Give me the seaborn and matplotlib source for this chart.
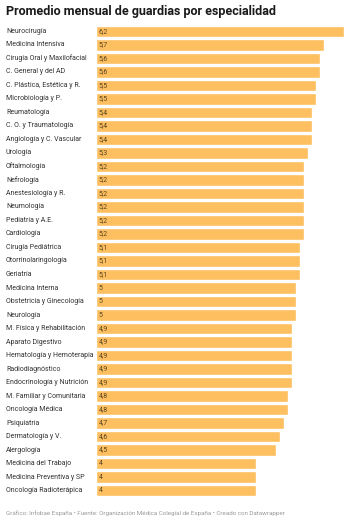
import seaborn as sns
import pandas as pd
import matplotlib.pyplot as plt

# Data
especialidades = [
    'Neurocirugía', 'Medicina Intensiva', 'Cirugía Oral y Maxilofacial',
    'C. General y del AD', 'C. Plástica, Estética y R.', 'Microbiología y P.',
    'Reumatología', 'C. O. y Traumatología', 'Angiología y C. Vascular',
    'Urología', 'Oftalmología', 'Nefrología', 'Anestesiología y R.',
    'Neumología', 'Pediatría y A.E.', 'Cardiología', 'Cirugía Pediátrica',
    'Otorrinolaringología', 'Geriatría', 'Medicina Interna',
    'Obstetricia y Ginecología', 'Neurología', 'M. Física y Rehabilitación',
    'Aparato Digestivo', 'Hematología y Hemoterapia', 'Radiodiagnóstico',
    'Endocrinología y Nutrición', 'M. Familiar y Comunitaria',
    'Oncología Médica', 'Psiquiatría', 'Dermatología y V.', 'Alergología',
    'Medicina del Trabajo', 'Medicina Preventiva y SP', 'Oncología Radioterápica',
]
guardias = [
    6.2, 5.7, 5.6, 5.6, 5.5, 5.5, 5.4, 5.4, 5.4, 5.3, 5.2, 5.2, 5.2, 5.2,
    5.2, 5.2, 5.1, 5.1, 5.1, 5.0, 5.0, 5.0, 4.9, 4.9, 4.9, 4.9, 4.9, 4.8,
    4.8, 4.7, 4.6, 4.5, 4.0, 4.0, 4.0,
]

df = pd.DataFrame({'especialidad': especialidades, 'guardias': guardias})

sns.set_style('white')
plt.rcParams['font.family'] = ['Roboto', 'DejaVu Sans']

fig = plt.figure(figsize=(3.5, 5.22), dpi=100)
ax = fig.add_axes([96 / 350, 1 - 497.4 / 522, 248 / 350, (497.4 - 24.6) / 522])

sns.barplot(data=df, x='guardias', y='especialidad', color='#fdbf5f',
            width=0.84, ax=ax, saturation=1)

ax.set_xlim(0, 6.2)
ax.set_xlabel('')
ax.set_ylabel('')
ax.set_xticks([])
ax.set_yticks(range(len(especialidades)))
ax.set_yticklabels([])
sns.despine(ax=ax, left=True, bottom=True)

# value labels inside bars, category names at the left edge of the figure
for i, (name, v) in enumerate(zip(especialidades, guardias)):
    txt = f'{v:g}'.replace('.', ',')
    ax.text(0.07, i, txt, va='center', ha='left', fontsize=5.0, color='#5a4420')
    ax.annotate(name, xy=(0, i), xycoords=('figure fraction', 'data'),
                xytext=(6, 0), textcoords='offset pixels',
                va='center', ha='left', fontsize=5.0, color='#333333')

fig.text(6 / 350, 1 - 12 / 522, 'Promedio mensual de guardias por especialidad',
         fontsize=9.0, fontweight='bold', va='center', ha='left', color='#1a1a1a')
fig.text(6 / 350, 1 - 513 / 522,
         'Gráfico: Infobae España • Fuente: Organización Médica Colegial de España • Creado con Datawrapper',
         fontsize=4.5, va='center', ha='left', color='#9a9a9a')

fig.savefig('out.png', dpi=100)
